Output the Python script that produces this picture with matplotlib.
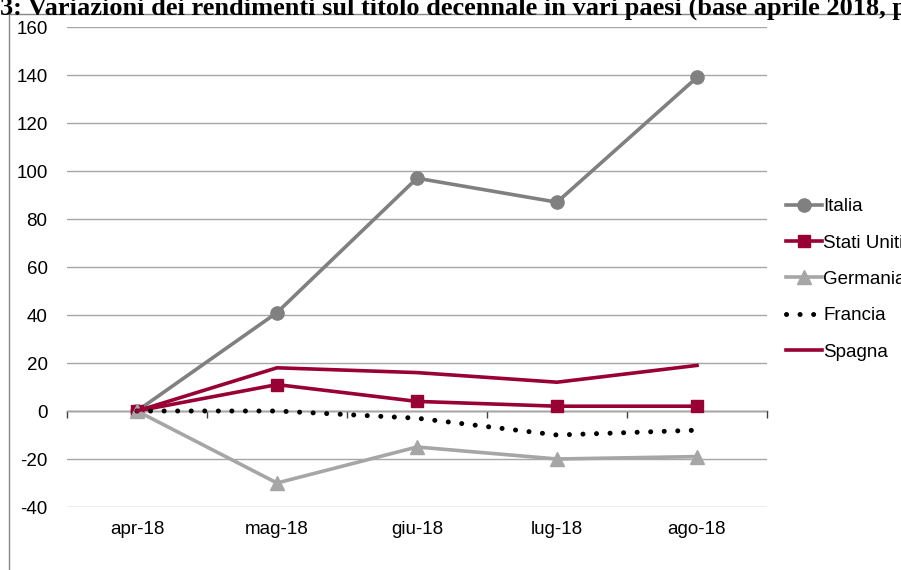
import matplotlib
matplotlib.use("Agg")
import matplotlib.pyplot as plt
from matplotlib.patches import Rectangle

# Monthly changes in 10-year government bond yields, basis points (April 2018 = 0)
months = ["apr-18", "mag-18", "giu-18", "lug-18", "ago-18"]
italia = [0, 41, 97, 87, 139]
stati_uniti = [0, 11, 4, 2, 2]
germania = [0, -30, -15, -20, -19]
francia = [0, 0, -3, -10, -8]
spagna = [0, 18, 16, 12, 19]
y_ticks = [-40, -20, 0, 20, 40, 60, 80, 100, 120, 140, 160]

W, H, DPI = 901, 570, 100
plt.rcParams["font.family"] = ["Liberation Sans", "DejaVu Sans"]

fig = plt.figure(figsize=(W / DPI, H / DPI), dpi=DPI)
fig.patch.set_facecolor("white")

# Chart frame
fig.add_artist(Rectangle((9 / W, -0.2), 2.0, (H - 14) / H + 0.2,
                         transform=fig.transFigure, fill=False,
                         edgecolor="#868686", linewidth=1.0))

ax = fig.add_axes([67 / W, (H - 507) / H, 700 / W, 480 / H])
x = list(range(len(months)))

CRIMSON = "#990033"
ax.plot(x, italia, color="#808080", lw=2.6, marker="o", ms=9.5, label="Italia", zorder=3)
ax.plot(x, stati_uniti, color=CRIMSON, lw=2.6, marker="s", ms=9, label="Stati Uniti", zorder=4)
ax.plot(x, germania, color="#A6A6A6", lw=2.6, marker="^", ms=10, label="Germania", zorder=5)
ax.plot(x, francia, color="black", lw=3.6, linestyle=(0, (0.01, 2.7)),
        dash_capstyle="round", label="Francia", zorder=6)
ax.plot(x, spagna, color=CRIMSON, lw=2.6, label="Spagna", zorder=7)

ax.set_xlim(-0.5, len(months) - 0.5)
ax.set_ylim(-40, 160)
ax.set_yticks(y_ticks)
ax.set_yticklabels([str(v) for v in y_ticks])
ax.set_xticks(x)
ax.set_xticklabels(months)
ax.tick_params(axis="both", length=0, labelsize=13.5, colors="black")
ax.tick_params(axis="y", pad=14)
ax.tick_params(axis="x", pad=10)
for s in ax.spines.values():
    s.set_visible(False)
ax.grid(axis="y", color="#A6A6A6", linewidth=1.0)
ax.set_axisbelow(True)

# Category axis drawn at zero, with ticks between categories
zero_ax = ax.secondary_xaxis((0 - (-40)) / 200)
zero_ax.set_xticks([i - 0.5 for i in range(len(months) + 1)])
zero_ax.set_xticklabels([])
zero_ax.tick_params(length=5, width=1.0, color="#404040", direction="out")
zero_ax.spines["bottom"].set_color("#404040")
zero_ax.spines["bottom"].set_linewidth(1.0)

leg = fig.legend(loc="upper left", bbox_to_anchor=(786 / W, 1 - 198 / H),
                 frameon=False, fontsize=13.5, handlelength=1.92,
                 handletextpad=0.06, labelspacing=1.03, borderpad=0,
                 borderaxespad=0)

# Title placed so that its start sits at the left edge
title_full = "Figura 3: Variazioni dei rendimenti sul titolo decennale in vari paesi (base aprile 2018, punti base)"
tkw = dict(fontsize=19, fontweight="bold", family=["Liberation Serif", "DejaVu Serif"])
fig.canvas.draw()
r = fig.canvas.get_renderer()
t1 = fig.text(0, 0, "Figura 3: Variazioni", **tkw)
t2 = fig.text(0, 0, "3: Variazioni", **tkw)
offset = t1.get_window_extent(r).width - t2.get_window_extent(r).width
t1.remove()
t2.remove()
fig.text((-offset + 0) / W, 1 - 15 / H, title_full, ha="left", va="baseline", **tkw)

fig.savefig("out.png", dpi=DPI)
